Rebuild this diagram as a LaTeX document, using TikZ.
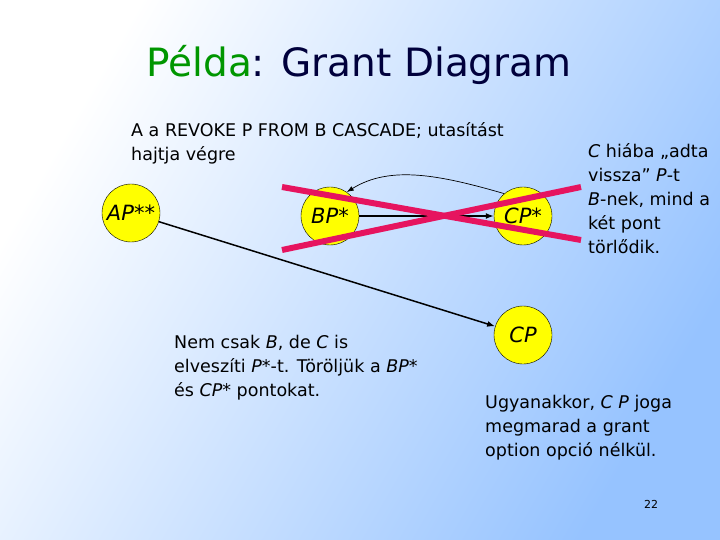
\documentclass[tikz,border=0pt]{standalone}
\usepackage{fontspec}
\setmainfont{DejaVu Sans}
\usetikzlibrary{arrows.meta}
\definecolor{bgblue}{RGB}{150,195,255}
\definecolor{ttlgreen}{RGB}{0,150,0}
\definecolor{ttlblue}{RGB}{0,0,60}
\definecolor{xred}{RGB}{230,20,95}
\definecolor{nodey}{RGB}{255,255,0}
\tikzset{
  circ/.style={circle,draw=black,fill=nodey,minimum size=58pt,inner sep=0pt,font=\fontsize{21}{21}\selectfont\itshape},
  txt/.style={anchor=north west,align=left,inner sep=0pt,font=\fontsize{17.5}{24}\selectfont},
  arr/.style={-{Latex[length=8pt,width=6pt]},line width=1.5pt},
  xline/.style={xred,line width=6pt}
}
\begin{document}
\begin{tikzpicture}[x=1pt,y=-1pt]
\useasboundingbox (0,0) rectangle (720,540);
\shade[shading=axis,left color=white,right color=bgblue,shading angle=60] (0,0) rectangle (720,540);
\node (title) at (359,65) {\fontsize{39}{39}\selectfont\color{ttlgreen}Példa\color{ttlblue}: Grant Diagram};
\node[txt] (intro) at (131,122) {A a REVOKE P FROM B CASCADE; utasítást\\hajtja végre};
\node[circ] (ap) at (131,213) {AP**};
\node[circ] (bp) at (330,216) {BP*};
\node[circ] (cps) at (523,216) {CP*};
\node[circ] (cp) at (523,335) {CP};
\draw[arr] (bp) -- (cps);
\draw[-{Latex[length=7pt,width=5pt]},line width=0.7pt] (cps.130) .. controls (440,175) and (390,165) .. (bp.55);
\draw[arr] (ap) -- (cp);
\draw[xline] (282,187) -- (581,240);
\draw[xline] (282,250) -- (581,187);
\node[txt] (right) at (588,143) {\textit{C} hiába „adta\\vissza” \textit{P}-t\\\textit{B}-nek, mind a\\két pont\\törlődik.};
\node[txt] (left) at (174,335) {Nem csak \textit{B}, de \textit{C} is\\elveszíti \textit{P*}-t. Töröljük a \textit{BP*}\\és \textit{CP*} pontokat.};
\node[txt] (bottom) at (485,395) {Ugyanakkor, \textit{C P} joga\\megmarad a grant\\option opció nélkül.};
\node (num) at (651,504) {\fontsize{11}{11}\selectfont 22};
\end{tikzpicture}
\end{document}
